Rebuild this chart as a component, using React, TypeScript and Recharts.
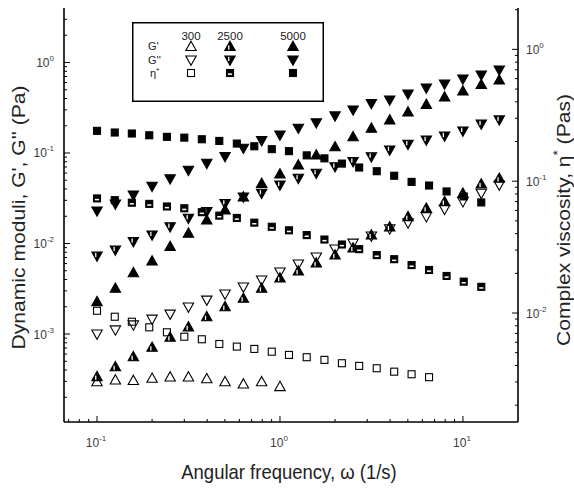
import { Legend, Scatter, ScatterChart, XAxis, YAxis } from "recharts";

// Angular frequency grid (1/s) used for G' and G''
const FREQ_G = [0.1, 0.126, 0.158, 0.2, 0.251, 0.316, 0.398, 0.501, 0.631, 0.794, 1, 1.26, 1.58, 2, 2.51, 3.16, 3.98, 5.01, 6.31, 7.94, 10, 12.6, 15.8];
// The viscosity points sit on a slightly tighter grid
const FREQ_ETA = [0.1, 0.125, 0.155, 0.193, 0.241, 0.3, 0.374, 0.466, 0.581, 0.724, 0.902, 1.12, 1.4, 1.75, 2.18, 2.71, 3.38, 4.21, 5.24, 6.53, 8.14, 10.1, 12.6];

const SAMPLES = ["300", "2500", "5000"];
const ROW_LABELS = ["G'", "G''", "η*"];

// G' (Pa)
const G1_300 = [2.97e-4, 3.1e-4, 3.06e-4, 3.24e-4, 3.35e-4, 3.35e-4, 3.2e-4, 2.97e-4, 2.8e-4, 2.97e-4, 2.62e-4];
const G1_2500 = [3.38e-4, 4.35e-4, 5.61e-4, 7.13e-4, 9.2e-4, 1.2e-3, 1.55e-3, 2.0e-3, 2.48e-3, 3.2e-3, 4.16e-3, 4.97e-3, 6.09e-3, 7.46e-3, 8.92e-3, 1.24e-2, 1.52e-2, 1.98e-2, 2.45e-2, 2.9e-2, 3.59e-2, 4.54e-2, 5.25e-2];
const G1_5000 = [2.28e-3, 3.2e-3, 4.76e-3, 6.41e-3, 9.27e-3, 1.3e-2, 1.82e-2, 2.35e-2, 3.26e-2, 4.62e-2, 5.86e-2, 7.37e-2, 9.5e-2, 0.117, 0.151, 0.188, 0.232, 0.284, 0.344, 0.416, 0.484, 0.571, 0.641];

// G'' (Pa)
const G2_300 = [1.0e-3, 1.11e-3, 1.26e-3, 1.46e-3, 1.66e-3, 1.99e-3, 2.37e-3, 2.77e-3, 3.31e-3, 3.95e-3, 4.84e-3, 5.93e-3, 7.09e-3, 8.69e-3, 1.01e-2, 1.21e-2, 1.45e-2, 1.69e-2, 1.98e-2, 2.39e-2, 2.9e-2, 3.59e-2, 4.43e-2];
const G2_2500 = [7.28e-3, 8.47e-3, 1.05e-2, 1.24e-2, 1.53e-2, 1.9e-2, 2.25e-2, 2.77e-2, 3.26e-2, 3.59e-2, 4.43e-2, 5.25e-2, 5.97e-2, 7.06e-2, 8.02e-2, 9.1e-2, 0.108, 0.125, 0.139, 0.154, 0.175, 0.209, 0.232];
const G2_5000 = [0.0229, 0.0273, 0.0343, 0.0429, 0.052, 0.0644, 0.0769, 0.0915, 0.113, 0.137, 0.158, 0.188, 0.216, 0.257, 0.299, 0.352, 0.385, 0.449, 0.523, 0.578, 0.657, 0.728, 0.826];

// eta* (Pa s), right axis
const ETA_300 = [0.0104, 0.00937, 0.00859, 0.00779, 0.00714, 0.00661, 0.00632, 0.00582, 0.00556, 0.00534, 0.00509, 0.00481, 0.00462, 0.00441, 0.00416, 0.00397, 0.00381, 0.00359, 0.00343, 0.00326];
const ETA_2500 = [0.074, 0.0718, 0.0687, 0.0673, 0.0643, 0.0623, 0.0582, 0.0548, 0.0526, 0.0485, 0.0451, 0.0424, 0.039, 0.0361, 0.0331, 0.0305, 0.0275, 0.0256, 0.0231, 0.0212, 0.0191, 0.0173, 0.0158];
const ETA_5000 = [0.241, 0.234, 0.23, 0.223, 0.217, 0.214, 0.208, 0.202, 0.193, 0.184, 0.175, 0.169, 0.157, 0.149, 0.136, 0.127, 0.119, 0.11, 0.0988, 0.0927, 0.0836, 0.0766, 0.069];

const X_DOMAIN = [0.066, 20];
const LEFT_DOMAIN = [1.066e-4, 4.0];
const RIGHT_DOMAIN = [1.49e-3, 2.06];

const FONT = "'Liberation Sans', Arial, sans-serif";
const INK = "#222";
const TICK_INK = "#3a3a3a";
const AXIS_LINE = { stroke: "#000", strokeWidth: 1.6 };

type Shape = "up" | "down" | "square";
type FillKind = "open" | "half" | "solid";

// log axis ticks: 1..9 x 10^n inside the domain
function logTicks(lo: number, hi: number) {
  const out: number[] = [];
  for (let e = -5; e <= 2; e++) {
    for (let m = 1; m <= 9; m++) {
      const v = m * Math.pow(10, e);
      if (v >= lo && v < hi * 0.999) out.push(v);
    }
  }
  return out;
}

function exponentOf(v: number) {
  const l = Math.log10(v);
  const r = Math.round(l);
  return Math.abs(l - r) < 1e-6 ? r : null;
}

const X_TICKS = logTicks(X_DOMAIN[0], X_DOMAIN[1]);
const LEFT_TICKS = logTicks(LEFT_DOMAIN[0], LEFT_DOMAIN[1]);
const RIGHT_TICKS = logTicks(RIGHT_DOMAIN[0], RIGHT_DOMAIN[1]);

function toPoints(freq: number[], values: number[]) {
  return values.map((v, i) => ({ x: freq[i], y: v }));
}

function Marker({ cx, cy, shape, fill }: { cx?: number; cy?: number; shape: Shape; fill: FillKind }) {
  if (cx == null || cy == null) return null;
  if (shape === "square") {
    const h = 3.5;
    return (
      <g>
        <rect x={cx - h} y={cy - h} width={h * 2} height={h * 2} fill={fill === "open" ? "none" : "#000"} stroke="#000" strokeWidth={1.1} />
        {fill === "half" ? <rect x={cx - h + 1.4} y={cy + 0.4} width={h * 2 - 2.8} height={1.5} fill="#fff" /> : null}
      </g>
    );
  }
  const s = shape === "up" ? 1 : -1;
  const w = 5.2;
  const pts = `${cx},${cy - s * 5.3} ${cx + w},${cy + s * 4} ${cx - w},${cy + s * 4}`;
  return (
    <g>
      <polygon points={pts} fill={fill === "open" ? "none" : "#000"} stroke="#000" strokeWidth={1.1} />
      {fill === "half" ? <rect x={cx - 1.9} y={shape === "up" ? cy - 1 : cy - 3.2} width={1.3} height={4.2} fill="#fff" /> : null}
    </g>
  );
}

function TickText({ x, y, exp, anchor }: { x: number; y: number; exp: number; anchor: "start" | "middle" | "end" }) {
  return (
    <text x={x} y={y} textAnchor={anchor} fontSize={12} fill={TICK_INK} fontFamily={FONT}>
      10
      <tspan fontSize={8} dy={-6}>{String(exp)}</tspan>
    </text>
  );
}

function BottomTick(props: any) {
  const { x, y, payload } = props;
  const exp = exponentOf(payload.value);
  return (
    <g>
      <line x1={x} x2={x} y1={y} y2={y - (exp !== null ? 6 : 3)} stroke="#000" strokeWidth={1} />
      {exp !== null ? <TickText x={x - 1} y={y + 25} exp={exp} anchor="middle" /> : null}
    </g>
  );
}

function TopTick(props: any) {
  const { x, y, payload } = props;
  const exp = exponentOf(payload.value);
  return <line x1={x} x2={x} y1={y} y2={y + (exp !== null ? 6 : 3)} stroke="#000" strokeWidth={1} />;
}

function LeftTick(props: any) {
  const { x, y, payload } = props;
  const exp = exponentOf(payload.value);
  return (
    <g>
      <line x1={x} x2={x + (exp !== null ? 6 : 3)} y1={y} y2={y} stroke="#000" strokeWidth={1} />
      {exp !== null ? <TickText x={x - 10} y={y + 4.5} exp={exp} anchor="end" /> : null}
    </g>
  );
}

function RightTick(props: any) {
  const { x, y, payload } = props;
  const exp = exponentOf(payload.value);
  return (
    <g>
      <line x1={x} x2={x - (exp !== null ? 6 : 3)} y1={y} y2={y} stroke="#000" strokeWidth={1} />
      {exp !== null ? <TickText x={x + 8} y={y + 4.5} exp={exp} anchor="start" /> : null}
    </g>
  );
}

// titles are slightly stretched vertically, like the exported original
function BottomTitle(props: any) {
  const vb = props.viewBox;
  return (
    <text transform={`translate(${vb.x + vb.width / 2 - 2},${vb.y + 57}) scale(1,1.11)`} textAnchor="middle" fontSize={18.5} fill={INK} fontFamily={FONT}>
      Angular frequency, ω (1/s)
    </text>
  );
}

function LeftTitle(props: any) {
  const vb = props.viewBox;
  return (
    <text transform={`translate(${vb.x + 25},${vb.y + 209.5}) scale(1,1.11) rotate(-90)`} textAnchor="middle" fontSize={19} fill={INK} fontFamily={FONT}>
      {"Dynamic moduli, G', G'' (Pa)"}
    </text>
  );
}

function RightTitle(props: any) {
  const vb = props.viewBox;
  return (
    <text transform={`translate(${vb.x + 52},${vb.y + 212}) scale(1,1.11) rotate(-90)`} textAnchor="middle" fontSize={19} fill={INK} fontFamily={FONT}>
      Complex viscosity, η<tspan fontSize={12} dy={-8}>*</tspan>
      <tspan dy={8}> (Pas)</tspan>
    </text>
  );
}

const ROW_SHAPES: Shape[] = ["up", "down", "square"];
const COL_FILLS: FillKind[] = ["open", "half", "solid"];
const COL_X = [59, 98, 161];
const ROW_Y = [24.5, 38, 51];

function LegendBox() {
  return (
    <svg width={192} height={80} style={{ display: "block" }}>
      <rect x={0.75} y={0.75} width={190.5} height={78.5} fill="#fff" stroke="#000" strokeWidth={1.5} />
      {SAMPLES.map((s, i) => (
        <text key={s} x={COL_X[i]} y={18} textAnchor="middle" fontSize={11.5} fill={INK} fontFamily={FONT}>
          {s}
        </text>
      ))}
      {ROW_LABELS.map((label, r) => (
        <text key={label} x={r === 2 ? 18 : 16} y={ROW_Y[r] + 3.5} fontSize={11} fill={INK} fontFamily={FONT}>
          {r === 2 ? (
            <>
              η<tspan fontSize={8} dy={-4}>*</tspan>
            </>
          ) : (
            label
          )}
        </text>
      ))}
      {ROW_SHAPES.map((shape, r) =>
        COL_FILLS.map((fill, c) => <Marker key={`${r}-${c}`} cx={COL_X[c]} cy={ROW_Y[r]} shape={shape} fill={fill} />),
      )}
    </svg>
  );
}

const SERIES = [
  { id: "g1-300", data: toPoints(FREQ_G, G1_300), axis: "left", shape: "up" as Shape, fill: "open" as FillKind },
  { id: "g2-300", data: toPoints(FREQ_G, G2_300), axis: "left", shape: "down" as Shape, fill: "open" as FillKind },
  { id: "eta-300", data: toPoints(FREQ_ETA, ETA_300), axis: "right", shape: "square" as Shape, fill: "open" as FillKind },
  { id: "g1-2500", data: toPoints(FREQ_G, G1_2500), axis: "left", shape: "up" as Shape, fill: "half" as FillKind },
  { id: "g2-2500", data: toPoints(FREQ_G, G2_2500), axis: "left", shape: "down" as Shape, fill: "half" as FillKind },
  { id: "eta-2500", data: toPoints(FREQ_ETA, ETA_2500), axis: "right", shape: "square" as Shape, fill: "half" as FillKind },
  { id: "g1-5000", data: toPoints(FREQ_G, G1_5000), axis: "left", shape: "up" as Shape, fill: "solid" as FillKind },
  { id: "g2-5000", data: toPoints(FREQ_G, G2_5000), axis: "left", shape: "down" as Shape, fill: "solid" as FillKind },
  { id: "eta-5000", data: toPoints(FREQ_ETA, ETA_5000), axis: "right", shape: "square" as Shape, fill: "solid" as FillKind },
];

export default function App() {
  return (
    <div style={{ position: "absolute", left: 0, top: 0, width: 574, height: 488, background: "#fff" }}>
      <ScatterChart width={574} height={488} margin={{ top: 8, right: 0, bottom: 0, left: 0 }}>
        <XAxis
          xAxisId="bottom"
          dataKey="x"
          type="number"
          scale="log"
          domain={X_DOMAIN}
          allowDataOverflow
          ticks={X_TICKS}
          interval={0}
          height={66}
          tickSize={0}
          tickMargin={0}
          tickLine={false}
          axisLine={AXIS_LINE}
          tick={BottomTick}
          label={BottomTitle}
        />
        <XAxis
          xAxisId="top"
          orientation="top"
          dataKey="x"
          type="number"
          scale="log"
          domain={X_DOMAIN}
          allowDataOverflow
          ticks={X_TICKS}
          interval={0}
          height={0}
          tickSize={0}
          tickMargin={0}
          tickLine={false}
          axisLine={AXIS_LINE}
          tick={TopTick}
        />
        <YAxis
          yAxisId="left"
          dataKey="y"
          type="number"
          scale="log"
          domain={LEFT_DOMAIN}
          allowDataOverflow
          ticks={LEFT_TICKS}
          interval={0}
          width={64}
          tickSize={0}
          tickMargin={0}
          tickLine={false}
          axisLine={AXIS_LINE}
          tick={LeftTick}
          label={LeftTitle}
        />
        <YAxis
          yAxisId="right"
          orientation="right"
          dataKey="y"
          type="number"
          scale="log"
          domain={RIGHT_DOMAIN}
          allowDataOverflow
          ticks={RIGHT_TICKS}
          interval={0}
          width={56}
          tickSize={0}
          tickMargin={0}
          tickLine={false}
          axisLine={AXIS_LINE}
          tick={RightTick}
          label={RightTitle}
        />
        {SERIES.map((s) => (
          <Scatter
            key={s.id}
            name={s.id}
            data={s.data}
            xAxisId="bottom"
            yAxisId={s.axis}
            isAnimationActive={false}
            shape={(p: any) => <Marker cx={p.cx} cy={p.cy} shape={s.shape} fill={s.fill} />}
          />
        ))}
        <Legend
          layout="horizontal"
          verticalAlign="middle"
          align="center"
          content={LegendBox}
          wrapperStyle={{ position: "absolute", left: 132, top: 22, width: 192, height: 80, margin: 0, padding: 0 }}
        />
      </ScatterChart>
    </div>
  );
}
